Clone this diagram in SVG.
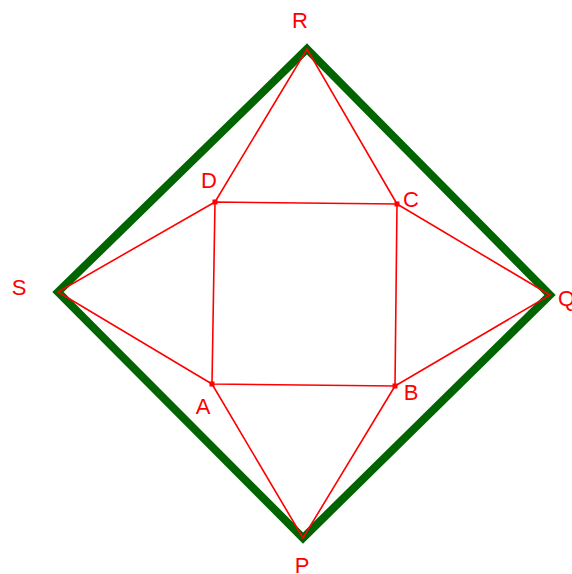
<svg xmlns="http://www.w3.org/2000/svg" width="572" height="574" viewBox="0 0 572 574">
<style>
.g{fill:none;stroke:#006400;stroke-width:8;stroke-linejoin:miter}
.r{fill:none;stroke:#ff0000;stroke-width:1.6}
.pt{fill:#ff0000}
.lb{font-family:"Liberation Sans",Arial,sans-serif;font-size:22px;fill:#ff0000}
</style>
<rect width="572" height="574" fill="#ffffff"/>
<g id="connectors">
<polygon class="g" points="307,49 550,295 303,538 58,292"/>
<polyline class="r" points="215,202 307,49 397,204"/>
<polyline class="r" points="215,202 58,292 212,384"/>
<polyline class="r" points="397,204 550,295 395,386"/>
<polyline class="r" points="212,384 303,538 395,386"/>
<polygon class="r" points="215,202 397,204 395,386 212,384"/>
</g>
<g id="R"><text class="lb" x="300" y="28" text-anchor="middle">R</text></g>
<g id="S"><text class="lb" x="19" y="295" text-anchor="middle">S</text></g>
<g id="Q"><text class="lb" x="558" y="306">Q</text></g>
<g id="P"><text class="lb" x="302" y="573" text-anchor="middle">P</text></g>
<g id="D"><rect class="pt" x="212.5" y="199.5" width="5" height="5"/><text class="lb" x="209" y="188" text-anchor="middle">D</text></g>
<g id="C"><rect class="pt" x="394.5" y="201.5" width="5" height="5"/><text class="lb" x="411" y="207" text-anchor="middle">C</text></g>
<g id="B"><rect class="pt" x="392.5" y="383.5" width="5" height="5"/><text class="lb" x="411" y="400" text-anchor="middle">B</text></g>
<g id="A"><rect class="pt" x="209.5" y="381.5" width="5" height="5"/><text class="lb" x="203" y="414" text-anchor="middle">A</text></g>
</svg>
